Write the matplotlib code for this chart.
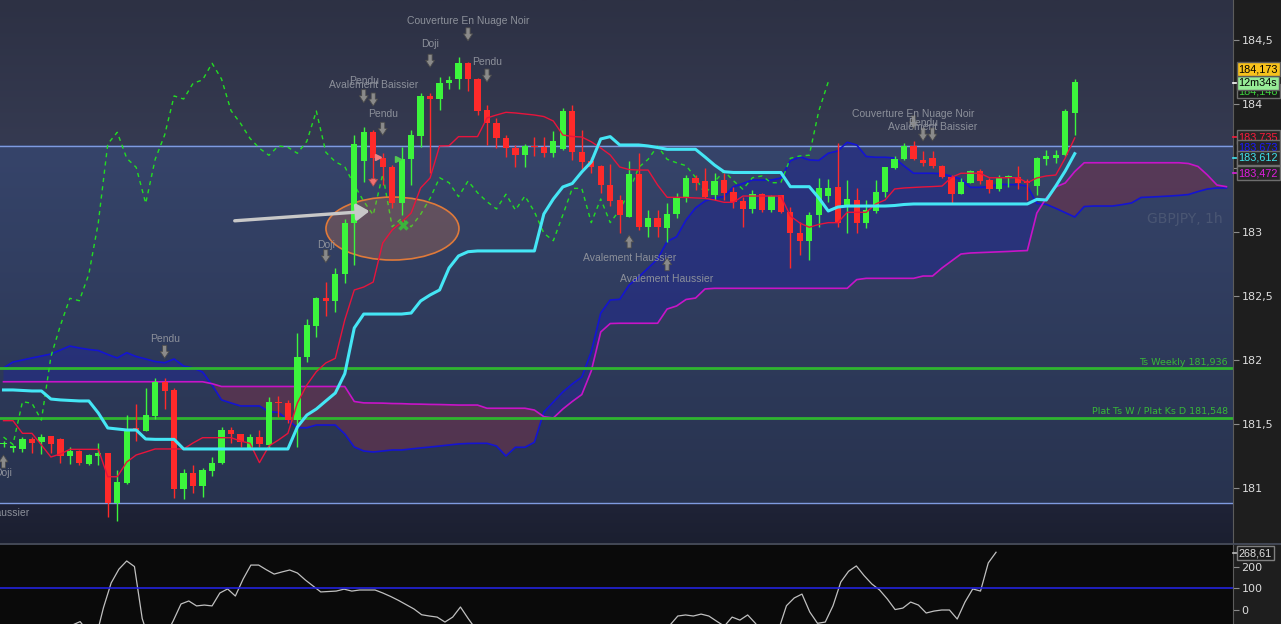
import numpy as np
import matplotlib.pyplot as plt
import matplotlib.colors as mcolors
from matplotlib.patches import Ellipse
from matplotlib.transforms import offset_copy, blended_transform_factory

# ---- GBPJPY 1h candles ----
opens = [181.340, 181.312, 181.303, 181.383, 181.357, 181.404, 181.383, 181.250, 181.289, 181.190,
         181.253, 181.271, 180.880, 181.040, 181.469, 181.448, 181.563, 181.830, 181.764, 180.990,
         181.115, 181.018, 181.135, 181.193, 181.453, 181.422, 181.310, 181.398, 181.336, 181.674,
         181.662, 181.530, 182.020, 182.268, 182.482, 182.463, 182.670, 183.068, 183.557, 183.779,
         183.576, 183.505, 183.224, 183.568, 183.752, 184.063, 184.037, 184.162, 184.193, 184.318,
         184.195, 183.953, 183.849, 183.737, 183.654, 183.599, 183.675, 183.662, 183.615, 183.648,
         183.945, 183.623, 183.555, 183.516, 183.367, 183.250, 183.120, 183.451, 183.041, 183.107,
         183.029, 183.138, 183.268, 183.420, 183.398, 183.289, 183.406, 183.311, 183.242, 183.180,
         183.295, 183.172, 183.287, 183.159, 182.990, 182.932, 183.133, 183.281, 183.354, 183.198,
         183.250, 183.073, 183.166, 183.315, 183.498, 183.568, 183.672, 183.563, 183.576, 183.518,
         183.427, 183.295, 183.385, 183.477, 183.406, 183.334, 183.427, 183.432, 183.393, 183.359,
         183.568, 183.580, 183.600, 183.932]
highs = [181.370, 181.336, 181.400, 181.398, 181.420, 181.410, 181.390, 181.320, 181.297, 181.266,
         181.350, 181.272, 181.140, 181.570, 181.656, 181.780, 181.857, 181.857, 181.780, 181.146,
         181.180, 181.160, 181.244, 181.474, 181.474, 181.422, 181.420, 181.453, 181.713, 181.720,
         181.688, 182.210, 182.320, 182.490, 182.612, 182.716, 183.100, 183.758, 183.823, 183.797,
         183.615, 183.523, 183.667, 183.797, 184.084, 184.084, 184.209, 184.219, 184.365, 184.330,
         184.200, 183.992, 183.888, 183.758, 183.680, 183.685, 183.740, 183.745, 183.789, 183.971,
         183.992, 183.797, 183.588, 183.523, 183.530, 183.289, 183.557, 183.615, 183.172, 183.172,
         183.224, 183.302, 183.445, 183.445, 183.498, 183.459, 183.459, 183.354, 183.276, 183.328,
         183.302, 183.289, 183.289, 183.198, 183.081, 183.159, 183.420, 183.412, 183.693, 183.406,
         183.341, 183.250, 183.406, 183.510, 183.594, 183.698, 183.713, 183.633, 183.633, 183.523,
         183.445, 183.420, 183.484, 183.490, 183.420, 183.445, 183.445, 183.516, 183.412, 183.588,
         183.641, 183.641, 183.960, 184.195]
lows = [181.320, 181.281, 181.284, 181.273, 181.266, 181.276, 181.198, 181.188, 181.180, 181.180,
        181.180, 180.770, 180.745, 181.030, 181.370, 181.445, 181.537, 181.615, 180.920, 180.912,
        180.960, 180.930, 181.090, 181.188, 181.354, 181.318, 181.303, 181.318, 181.310, 181.557,
        181.508, 181.320, 181.987, 182.180, 182.340, 182.377, 182.600, 182.740, 183.393, 183.393,
        183.367, 183.185, 183.133, 183.367, 183.667, 183.459, 183.953, 184.115, 184.115, 184.104,
        183.914, 183.680, 183.654, 183.588, 183.505, 183.510, 183.597, 183.588, 183.588, 183.640,
        183.563, 183.492, 183.459, 183.302, 183.200, 182.990, 183.117, 183.016, 182.963, 182.963,
        182.924, 183.107, 183.237, 183.328, 183.264, 183.250, 183.250, 183.185, 183.037, 183.146,
        183.159, 183.159, 183.151, 182.716, 182.820, 182.780, 183.041, 183.237, 183.041, 182.995,
        182.990, 183.029, 183.146, 183.271, 183.490, 183.563, 183.563, 183.516, 183.502, 183.420,
        183.216, 183.295, 183.380, 183.375, 183.307, 183.323, 183.354, 183.334, 183.250, 183.289,
        183.523, 183.537, 183.594, 183.758]
closes = [181.348, 181.330, 181.383, 181.354, 181.398, 181.346, 181.250, 181.289, 181.193, 181.256,
          181.271, 180.880, 181.045, 181.460, 181.448, 181.570, 181.830, 181.760, 180.990, 181.115,
          181.018, 181.138, 181.193, 181.453, 181.420, 181.357, 181.398, 181.340, 181.674, 181.662,
          181.530, 182.026, 182.270, 182.482, 182.463, 182.670, 183.073, 183.688, 183.779, 183.576,
          183.505, 183.224, 183.568, 183.758, 184.063, 184.039, 184.162, 184.188, 184.318, 184.195,
          183.948, 183.849, 183.732, 183.654, 183.599, 183.672, 183.662, 183.615, 183.709, 183.945,
          183.623, 183.549, 183.510, 183.367, 183.240, 183.133, 183.451, 183.041, 183.107, 183.041,
          183.138, 183.263, 183.424, 183.385, 183.276, 183.398, 183.307, 183.237, 183.180, 183.295,
          183.172, 183.281, 183.159, 182.990, 182.932, 183.133, 183.341, 183.341, 183.073, 183.258,
          183.073, 183.172, 183.315, 183.505, 183.568, 183.672, 183.568, 183.541, 183.518, 183.427,
          183.297, 183.391, 183.477, 183.400, 183.334, 183.424, 183.438, 183.385, 183.385, 183.576,
          183.594, 183.600, 183.945, 184.173]

# ---- Ichimoku lines (read per bar) ----
tenkan = [181.526, 181.526, 181.427, 181.427, 181.336, 181.242, 181.266, 181.302, 181.302, 181.302,
          181.302, 181.088, 181.088, 181.203, 181.258, 181.281, 181.305, 181.305, 181.305, 181.305,
          181.352, 181.393, 181.393, 181.393, 181.393, 181.367, 181.349, 181.198, 181.328, 181.375,
          181.427, 181.664, 181.805, 181.909, 181.977, 182.013, 182.313, 182.547, 182.570, 182.609,
          182.914, 183.016, 183.078, 183.148, 183.344, 183.422, 183.672, 183.674, 183.745, 183.745,
          183.745, 183.891, 183.914, 183.935, 183.930, 183.922, 183.914, 183.902, 183.867, 183.758,
          183.746, 183.742, 183.705, 183.656, 183.602, 183.508, 183.488, 183.484, 183.484, 183.367,
          183.271, 183.271, 183.270, 183.266, 183.263, 183.250, 183.232, 183.232, 183.281, 183.281,
          183.281, 183.281, 183.281, 183.125, 183.070, 183.037, 183.059, 183.073, 183.073, 183.154,
          183.154, 183.154, 183.219, 183.250, 183.336, 183.344, 183.348, 183.352, 183.355, 183.359,
          183.427, 183.459, 183.459, 183.459, 183.424, 183.424, 183.424, 183.424, 183.385, 183.422,
          183.438, 183.445, 183.578, 183.735]
kijun = [181.766, 181.766, 181.762, 181.758, 181.758, 181.695, 181.688, 181.684, 181.680, 181.680,
         181.586, 181.469, 181.461, 181.453, 181.453, 181.383, 181.380, 181.380, 181.380, 181.305,
         181.305, 181.305, 181.305, 181.305, 181.305, 181.305, 181.305, 181.305, 181.305, 181.305,
         181.305, 181.477, 181.570, 181.617, 181.680, 181.742, 181.893, 182.250, 182.359, 182.359,
         182.359, 182.359, 182.359, 182.367, 182.461, 182.508, 182.547, 182.719, 182.813, 182.846,
         182.852, 182.852, 182.852, 182.852, 182.852, 182.852, 182.852, 183.141, 183.258, 183.352,
         183.379, 183.469, 183.547, 183.727, 183.745, 183.680, 183.680, 183.680, 183.672, 183.660,
         183.646, 183.646, 183.646, 183.646, 183.586, 183.523, 183.471, 183.465, 183.465, 183.465,
         183.465, 183.465, 183.465, 183.354, 183.354, 183.354, 183.266, 183.164, 183.195, 183.203,
         183.203, 183.203, 183.203, 183.203, 183.207, 183.215, 183.219, 183.219, 183.219, 183.219,
         183.219, 183.219, 183.219, 183.219, 183.219, 183.219, 183.219, 183.219, 183.219, 183.255,
         183.250, 183.359, 183.477, 183.612]
# senkou spans run 16 bars past the last candle
senkou_a = [181.938, 181.984, 182.000, 182.016, 182.031, 182.047, 182.078, 182.109, 182.094, 182.082,
            182.074, 182.043, 182.016, 182.057, 182.027, 182.008, 181.988, 181.979, 182.008, 181.953,
            181.938, 181.906, 181.805, 181.688, 181.664, 181.641, 181.641, 181.641, 181.596, 181.591,
            181.531, 181.471, 181.471, 181.492, 181.492, 181.492, 181.422, 181.320, 181.289, 181.281,
            181.289, 181.297, 181.297, 181.305, 181.313, 181.320, 181.328, 181.336, 181.344, 181.348,
            181.349, 181.349, 181.328, 181.250, 181.318, 181.318, 181.357, 181.594, 181.672, 181.750,
            181.813, 181.867, 182.063, 182.367, 182.469, 182.474, 182.586, 182.648, 182.719, 182.789,
            182.926, 182.963, 183.094, 183.188, 183.242, 183.266, 183.277, 183.354, 183.379, 183.406,
            183.406, 183.406, 183.422, 183.555, 183.588, 183.563, 183.559, 183.615, 183.633, 183.701,
            183.680, 183.590, 183.584, 183.584, 183.578, 183.516, 183.459, 183.459, 183.459, 183.455,
            183.435, 183.414, 183.349, 183.349, 183.355, 183.373, 183.371, 183.370, 183.359, 183.224,
            183.216, 183.185, 183.151, 183.117, 183.199, 183.203, 183.203, 183.203, 183.214, 183.227,
            183.270, 183.273, 183.277, 183.281, 183.286, 183.293, 183.316, 183.336, 183.344, 183.344]
senkou_b = [181.830, 181.830, 181.830, 181.830, 181.830, 181.830, 181.830, 181.830, 181.830, 181.830,
            181.830, 181.830, 181.830, 181.830, 181.830, 181.830, 181.830, 181.830, 181.830, 181.830,
            181.830, 181.830, 181.815, 181.793, 181.793, 181.793, 181.793, 181.793, 181.793, 181.793,
            181.793, 181.793, 181.793, 181.793, 181.793, 181.793, 181.793, 181.676, 181.665, 181.664,
            181.663, 181.660, 181.659, 181.656, 181.655, 181.653, 181.652, 181.650, 181.648, 181.648,
            181.648, 181.623, 181.623, 181.623, 181.623, 181.623, 181.609, 181.557, 181.547, 181.617,
            181.676, 181.730, 181.914, 182.219, 182.285, 182.287, 182.287, 182.287, 182.287, 182.287,
            182.398, 182.422, 182.473, 182.484, 182.555, 182.560, 182.560, 182.560, 182.560, 182.560,
            182.560, 182.560, 182.560, 182.560, 182.560, 182.560, 182.560, 182.560, 182.560, 182.560,
            182.628, 182.638, 182.638, 182.638, 182.638, 182.638, 182.638, 182.656, 182.656, 182.719,
            182.773, 182.828, 182.836, 182.839, 182.842, 182.845, 182.848, 182.852, 182.855, 183.148,
            183.266, 183.352, 183.383, 183.472, 183.541, 183.541, 183.541, 183.541, 183.541, 183.541,
            183.541, 183.541, 183.541, 183.541, 183.541, 183.535, 183.512, 183.445, 183.367, 183.354]

level_weekly = 181.936
level_plat = 181.548
box_top, box_bottom = 183.673, 180.88

# ---- CCI sub panel ----
cci = [-120, -150, -130, -110, -140, -160, -120, -100, -90, -70,
       -54, -100, -134, 10, 126, 190, 228, 202, -40, -150,
       -160, -120, -50, 28, 42, 19, 23, 19, 79, 98,
       65, 144, 209, 209, 187, 167, 177, 186, 172, 140,
       112, 84, 86, 88, 97, 88, 93, 93, 93, 79,
       63, 45, 25, 5, -22, -28, -33, -56, -33, 14,
       -40, -90, -130, -160, -150, -120, -100, -110, -140, -170,
       -150, -120, -95, -110, -140, -160, -130, -110, -120, -150,
       -170, -140, -110, -100, -90, -80, -70, -28, -23, -28,
       -19, -28, -52, -75, -33, -47, -23, -62, -110, -130,
       -90, 20, 56, 74, -9, -62, -56, 20, 130, 180,
       205, 160, 121, 93, 51, 2, 9, 37, 23, -14,
       -5, 0, 0, -42, 37, 98, 88, 219, 268.61]

# candle pattern marks: bar, label, side, arrow gap px, text gap px
patterns = [
    (49, 'Couverture En Nuage Noir', 'above', 21, 41),
    (45, 'Doji', 'above', 26, 49),
    (51, 'Pendu', 'above', 23, 43),
    (38, 'Pendu', 'above', 24, 46),
    (39, 'Avalement Baissier', 'above', 24, 45),
    (40, 'Pendu', 'above', 18, 39),
    (34, 'Doji', 'above', 19, 37),
    (17, 'Pendu', 'above', 20, 39),
    (96, 'Couverture En Nuage Noir', 'above', 12, 27),
    (97, 'Pendu', 'above', 10, 28),
    (98, 'Avalement Baissier', 'above', 10, 24),
    (0, 'Doji', 'below', 8, 26),
    (66, 'Avalement Haussier', 'below', 18, 41),
    (70, 'Avalement Haussier', 'below', 16, 37),
]

W, H = 1281, 624
PW, MH, ST = 1233, 543, 545
fig = plt.figure(figsize=(W / 100, H / 100), dpi=100, facecolor='#1e1e1e')
ax = fig.add_axes([0, 1 - MH / H, PW / W, MH / H])
ax2 = fig.add_axes([0, 0, PW / W, (H - ST) / H])

bar_px, first_px = 9.48, 3.5
xmin, xmax = -first_px / bar_px, (PW - first_px) / bar_px
ymin, ymax = 180.5703, 184.8125


def vgrad(y0, y1, top, bottom):
    t = np.linspace(0, 1, 128)[:, None, None]
    img = (1 - t) * np.array(mcolors.to_rgb(top)) + t * np.array(mcolors.to_rgb(bottom))
    ax.imshow(img, extent=[xmin, xmax, y0, y1], aspect='auto', origin='upper',
              interpolation='bilinear', zorder=0)


vgrad(box_top, ymax, '#2d3144', '#353a51')
vgrad(box_bottom, box_top, '#36446a', '#28334f')
vgrad(ymin, box_bottom, '#1f2337', '#1b1f30')

o, h, l, c = map(np.array, (opens, highs, lows, closes))
n = len(c)
idx = np.arange(n)

# cloud
sa, sb = np.array(senkou_a), np.array(senkou_b)
xc = np.arange(len(sa))
ax.fill_between(xc, sa, sb, where=sa >= sb, interpolate=True, color='#232b8b', alpha=0.6, lw=0, zorder=1)
ax.fill_between(xc, sa, sb, where=sa < sb, interpolate=True, color='#6c344e', alpha=0.62, lw=0, zorder=1)
ax.plot(xc, sa, color='#1414d2', lw=1.2, zorder=2)
ax.plot(xc, sb, color='#c814c8', lw=1.2, zorder=2)

# levels
ax.axhline(box_top, color='#7f9be0', lw=1, zorder=1.5)
ax.axhline(box_bottom, color='#7f9be0', lw=1, zorder=1.5)
ax.axhline(level_weekly, color='#2fb52f', lw=2, zorder=2.5)
ax.axhline(level_plat, color='#2fb52f', lw=2, zorder=2.5)
lvl_tr = blended_transform_factory(ax.transAxes, ax.transData)
ax.text(0.996, level_weekly + 0.012, 'Ts Weekly 181,936', transform=lvl_tr, ha='right',
        va='bottom', color='#38b838', fontsize=6.8)
ax.text(0.996, level_plat + 0.012, 'Plat Ts W / Plat Ks D 181,548', transform=lvl_tr,
        ha='right', va='bottom', color='#38b838', fontsize=6.8)

# chikou: close shifted back 26 bars
ax.plot(idx[:n - 26], c[26:], color='#22dd22', lw=1, ls=(0, (3, 3)), zorder=3)

# candles
col = np.where(c >= o, '#3cf53c', '#ff2a2a')
ax.vlines(idx, l, h, colors=col, lw=1, zorder=4)
body = np.maximum(np.abs(c - o), 0.012)
ax.bar(idx, body, bottom=np.minimum(o, c), width=0.66, color=col, lw=0, zorder=4)

ax.plot(idx, tenkan, color='#e8143c', lw=1, zorder=5)
ax.plot(idx, kijun, color='#45e6f5', lw=2.2, zorder=5)

# pattern labels
for i, label, side, agap, tgap in patterns:
    s = 1 if side == 'above' else -1
    base = h[i] if s > 0 else l[i]
    tip = offset_copy(ax.transData, fig=fig, y=s * agap, units='dots')
    tail = offset_copy(ax.transData, fig=fig, y=s * (agap + 13), units='dots')
    ax.annotate('', xy=(i, base), xycoords=tip, xytext=(i, base), textcoords=tail,
                arrowprops=dict(arrowstyle='simple,head_width=0.65,head_length=0.5,tail_width=0.3',
                                fc='#8a8a8a', ec='#4a4a4a', lw=0.6, shrinkA=0, shrinkB=0,
                                mutation_scale=10), zorder=6, annotation_clip=False)
    ax.text(i, base, label, transform=offset_copy(ax.transData, fig=fig, y=s * tgap, units='dots'),
            ha='center', va='center', color='#8c909a', fontsize=7.5, family='Liberation Sans',
            zorder=6, clip_on=True)
ax.text(-2.2, 180.805, 'Avalement Haussier', ha='center', va='center', color='#8c909a',
        fontsize=7.5, family='Liberation Sans', clip_on=True)

# hand drawn marks around the pullback
ax.add_patch(Ellipse((41.03, 183.027), 14.03, 0.492, fc=(0.9, 0.5, 0.3, 0.26), ec='#e07a3a',
                     lw=1.2, zorder=3.5))
ax.annotate('', xy=(38.9, 183.164), xytext=(24.1, 183.086),
            arrowprops=dict(arrowstyle='-|>,head_width=0.5,head_length=0.75', color='#c8c8c8',
                            lw=2.4, mutation_scale=10), zorder=6)
ax.annotate('', xy=(39, 183.336), xytext=(39, 183.438),
            arrowprops=dict(arrowstyle='simple,head_width=0.65,head_length=0.5,tail_width=0.3',
                            fc='#f07070', ec='#b04a4a', lw=0.5, mutation_scale=10), zorder=6)
ax.plot([39.5], [183.586], marker='>', ms=5, color='#f08080', zorder=6)
ax.plot([41.6], [183.570], marker='>', ms=5, color='#50c850', zorder=6)
ax.plot([42.1], [183.055], marker='x', ms=6, mew=2.5, color='#3cb43c', zorder=6)

ax.text(0.961, 0.597, 'GBPJPY, 1h', transform=ax.transAxes, ha='center', va='center',
        color='#4a5673', fontsize=10)

ax.set_xlim(xmin, xmax)
ax.set_ylim(ymin, ymax)
ax.set_xticks([])
ax.yaxis.tick_right()
yt = [181, 181.5, 182, 182.5, 183, 183.5, 184, 184.5]
ax.set_yticks(yt, [('%g' % v).replace('.', ',') for v in yt])
ax.tick_params(axis='y', colors='#8c8c8c', labelcolor='#dcdcdc', labelsize=8, length=4, pad=2)
for side in ('top', 'left', 'bottom'):
    ax.spines[side].set_visible(False)
ax.spines['right'].set_color('#5c5c5c')

# CCI
cci_px, cci_first = 7.762, 2.5
ax2.set_facecolor('#0a0a0a')
ax2.plot(np.arange(len(cci)), cci, color='#c0c0c0', lw=0.9)
ax2.axhline(100, color='#2323dd', lw=1.2)
ax2.set_xlim(-cci_first / cci_px, (PW - cci_first) / cci_px)
ax2.set_ylim(-65.1, 302.3)
ax2.set_xticks([])
ax2.yaxis.tick_right()
ax2.set_yticks([0, 100, 200], ['0', '100', '200'])
ax2.tick_params(axis='y', colors='#8c8c8c', labelcolor='#dcdcdc', labelsize=8, length=4, pad=2)
for side in ('top', 'left', 'bottom'):
    ax2.spines[side].set_visible(False)
ax2.spines['right'].set_color('#5c5c5c')

fig.add_artist(plt.Line2D([0, 1], [1 - 544 / H] * 2, transform=fig.transFigure,
                          color='#4a5060', lw=1.2))


def price_box(y_px, text, fg, bg, ec='#6e6e6e', tick=None):
    if tick:
        fig.add_artist(plt.Line2D([PW / W, (PW + 5) / W], [1 - y_px / H] * 2,
                                  transform=fig.transFigure, color=tick, lw=1.2))
    fig.text(1238.5 / W, 1 - y_px / H, text, color=fg, fontsize=7.8, family='Liberation Sans',
             ha='left', va='center',
             bbox=dict(boxstyle='square,pad=0.17', fc=bg, ec=ec, lw=1))


price_box(91, '184,148', '#3cd23c', '#1a1a1a')
price_box(83, '12m34s', '#000000', '#96eb96', ec='#5a5a5a', tick='#ffffff')
price_box(69, '184,173', '#000000', '#f8c21c', ec='#5a5a5a')
price_box(137, '183,735', '#ff1a3c', '#262626', tick='#ff1a3c')
price_box(147, '183,673', '#1a1aff', '#262626')
price_box(167, '183,530', '#e0e0e0', '#262626')
price_box(158, '183,612', '#3fe6f0', '#262626', tick='#3fe6f0')
price_box(173, '183,472', '#e01ee0', '#262626', tick='#e01ee0')
price_box(553, '268,61', '#e0e0e0', '#1a1a1a', ec='#808080', tick='#c0c0c0')

fig.savefig('out.png', dpi=100, facecolor=fig.get_facecolor())
